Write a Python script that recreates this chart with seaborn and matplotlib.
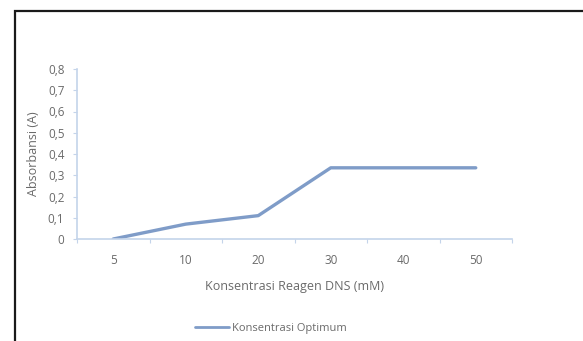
import matplotlib
matplotlib.use("Agg")
import matplotlib.pyplot as plt
from matplotlib.patches import Rectangle
import seaborn as sns
import pandas as pd
import numpy as np

categories = ["5", "10", "20", "30", "40", "50"]
absorbance = [0.0, 0.07, 0.11, 0.335, 0.335, 0.335]
y_ticks = [0, 0.1, 0.2, 0.3, 0.4, 0.5, 0.6, 0.7, 0.8]
y_tick_labels = ["0", "0,1", "0,2", "0,3", "0,4", "0,5", "0,6", "0,7", "0,8"]
series_name = "Konsentrasi Optimum"

sns.set_theme(style="white")
plt.rcParams["font.family"] = ["Open Sans", "DejaVu Sans"]

df = pd.DataFrame({"Konsentrasi": categories, "Absorbansi": absorbance,
                   "Seri": [series_name] * len(categories)})

W, H = 583, 341
fig = plt.figure(figsize=(W / 100, H / 100), dpi=100)
fig.patch.set_facecolor("white")

# outer chart frame (extends past the right and bottom edges)
fig.patches.append(Rectangle((14.5 / W, -0.1), 1.2, (H - 10.5) / H + 0.1,
                             transform=fig.transFigure, fill=False,
                             edgecolor="#1a1a1a", linewidth=1.6))

ax = fig.add_axes([77 / W, (H - 239) / H, (512 - 77) / W, (239 - 69) / H])
line_color = "#7f9cc8"
axis_color = "#c4d4ea"
text_color = "#6a6a6a"

sns.lineplot(data=df, x="Konsentrasi", y="Absorbansi", hue="Seri",
             palette=[line_color], linewidth=2.4, sort=False, ax=ax,
             legend=True)

ax.set_xlim(-0.5, len(categories) - 0.5)
ax.set_ylim(0, 0.8)
ax.set_yticks(y_ticks)
ax.set_yticklabels(y_tick_labels)
ax.set_xticks(range(len(categories)))
ax.set_xticklabels(categories)
ax.set_xticks(np.arange(-0.5, len(categories), 1.0), minor=True)

for s in ["top", "right"]:
    ax.spines[s].set_visible(False)
for s in ["left", "bottom"]:
    ax.spines[s].set_color(axis_color)
    ax.spines[s].set_linewidth(1.2)

ax.tick_params(axis="y", which="major", length=3, width=0.8, color=axis_color,
               labelsize=8.5, labelcolor=text_color, pad=6, left=True)
ax.tick_params(axis="x", which="major", length=0, labelsize=8.5,
               labelcolor=text_color, pad=11)
ax.tick_params(axis="x", which="minor", length=3, width=0.8, color=axis_color,
               bottom=True)

ax.set_xlabel("Konsentrasi Reagen DNS (mM)", fontsize=9, color=text_color,
              labelpad=9)
ax.set_ylabel("Absorbansi (A)", fontsize=9, color=text_color, labelpad=6)

leg = ax.legend(loc="center", bbox_to_anchor=(271 / W, (H - 328) / H),
                bbox_transform=fig.transFigure, frameon=False, fontsize=8,
                handlelength=3.0, handletextpad=0.3, labelcolor=text_color)
for h in leg.get_lines():
    h.set_linewidth(2.0)

fig.savefig("out.png", dpi=100, facecolor="white")
